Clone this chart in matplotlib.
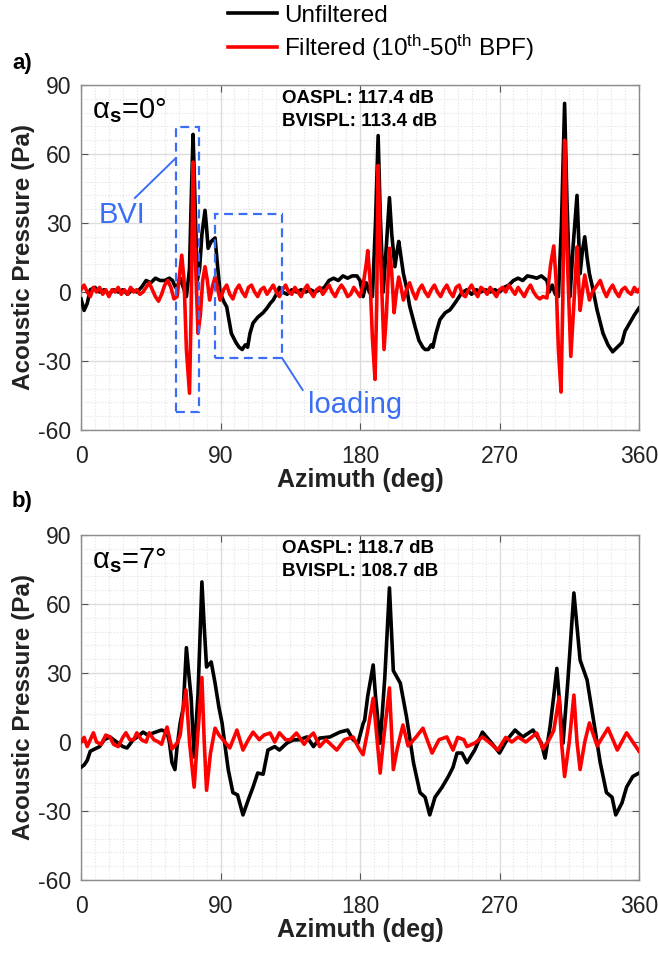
import matplotlib
matplotlib.use("Agg")
import matplotlib.pyplot as plt
from matplotlib.patches import Rectangle
from matplotlib.ticker import MultipleLocator

plt.rcParams['font.family'] = ['Liberation Sans', 'DejaVu Sans']
plt.rcParams['mathtext.fontset'] = 'custom'
plt.rcParams['mathtext.rm'] = 'Liberation Sans'
plt.rcParams['mathtext.it'] = 'Liberation Sans:italic'
plt.rcParams['mathtext.bf'] = 'Liberation Sans:bold'
plt.rcParams['axes.unicode_minus'] = False

# --- data (azimuth in deg, pressure in Pa) ---

# panel a) alpha_s = 0 deg, unfiltered
az_a_unf = [0, 2, 4, 6, 9, 12, 15, 18, 21, 24, 27, 30, 33, 36, 39, 42, 45, 48, 51, 54,
            57, 59, 61, 62, 64, 66, 68, 70, 71.5, 72.3, 73.5, 75, 76.5, 78, 80, 81, 82, 84,
            86.5, 88, 89.7, 92, 94, 97, 100, 102, 104, 106, 107.5, 109, 111, 114, 117.5,
            120, 122, 124, 126, 128, 130, 133, 136, 139, 142, 145, 148, 151, 154, 157,
            160, 163, 166, 169, 172, 175, 178, 180, 182, 184, 186, 188, 190, 191.7, 193,
            195, 197, 199, 200.5, 202.5, 204, 205, 206.5, 208, 210, 212, 215.5, 218,
            220.5, 222, 224, 226, 227, 229, 231.6, 235, 238, 240, 242.6, 245, 246.5, 249,
            252, 255, 258, 261, 264, 267, 270, 273, 276, 279, 282, 285, 288, 291.6, 294,
            297, 300.6, 302, 304, 306, 308, 310, 312, 313.5, 315.5, 317.5, 320, 321, 322,
            323.5, 325, 326.5, 328, 330, 333, 336.8, 340, 343, 346, 349, 351, 354, 357, 360]
p_a_unf = [-3, -8, -5, 1, 2, 0, 1, -1, 1, 0, 1, -1, 1, 0, 2, 5, 4, 6, 5, 5,
           6, 5, 2, 2, 6, 2, -2, 10, 50, 68.5, 40, 5, 10, 25, 35.5, 28, 19, 22,
           23.5, 12, 0, -4, -6.5, -18, -22, -24, -25, -23, -24, -18, -13.5, -11, -9,
           -7, -5, -3.5, -1, 2, 0, -1, 1, 0, 1, 0, 1, 0, 1, 2,
           5, 6, 5, 7, 6, 7, 7, 5, -2, 4, 0, -2, 30, 68, 35,
           0, 20, 41, 25, 11, 18, 22, 15, 8, 2, -6, -15, -21,
           -24, -25, -25, -23, -24, -18, -12, -9, -7.8, -6, -3.5, -1, 0, 1,
           -1, 1, 0, 1, 0, 1, 0, 2, 3, 5, 6, 5, 7, 6.5, 6,
           7, 5, 0, 3, -1, -2, 30, 82, 40, -2, 20, 42, 25, 8,
           18, 24, 15, 8, 2, -8, -18, -23, -26, -24, -22, -17, -13.5, -10, -7]

# panel a) alpha_s = 0 deg, filtered 10th-50th BPF
az_a_flt = [0, 2, 4, 6, 8, 10, 12, 14, 16, 18, 20, 22, 24, 26, 28, 30, 32, 34, 36, 38,
            40, 42, 44, 46, 48, 50, 52, 54, 56, 58, 60, 62, 64, 65, 66.5, 68, 70, 71,
            72.3, 73.5, 75.5, 77, 78.5, 80, 81.5, 83, 85, 86.5, 88, 89.7, 92, 94, 96, 98,
            100, 102, 104, 106, 108, 110, 112, 114, 116, 118, 120, 122, 124, 126, 128,
            130, 132, 134, 136, 138, 140, 142, 144, 146, 148, 150, 152, 154, 156, 158,
            160, 162, 164, 166, 168, 170, 172, 174, 176, 178, 180, 182, 184, 185, 186.5,
            188, 189.7, 190.8, 191.7, 193, 195.5, 197, 199, 200.5, 202, 203.5, 205,
            206.5, 208, 210, 212, 214, 216, 218, 220, 222, 224, 226, 228, 230, 232, 234,
            236, 238, 240, 242, 244, 246, 248, 250, 252, 254, 256, 258, 260, 262, 264,
            266, 268, 270, 272, 274, 276, 278, 280, 282, 284, 286, 288, 290, 292, 294,
            296, 298, 300.6, 303, 305, 306.5, 308, 309.7, 310.8, 312, 313.5, 316, 318,
            320, 321, 322, 323.5, 325, 326.5, 328, 330, 332, 335, 337, 339, 341, 343,
            345, 347, 349, 351, 353, 355, 357, 359, 360]
p_a_flt = [1, 3, 0, -2, 2, 0, 2, -1, 1, -2, 1, 0, 2, -1, 1, -1, 2, 0, 1, -1,
           0, 2, 4, 1, -2, -4, -1, 3, 5, 2, -3, -2, 10, 16, 5, -25, -44, -10,
           56.5, 20, -18, -10, 5, 11, 5, -3.5, 3, 6.5, 2, -3.5, 1, 3, -1, -3,
           1, 3, 0, -2, 2, 3, 0, -2, 1, 2, -1, 1, 3, 0, -2,
           1, 3, 0, -1, 2, 0, -2, 1, 3, 0, -2, 1, 2, -1, 1,
           3, 0, -2, 1, 3, 1, -2, -1, 2, 0, -2, 3, 12, 18, 5,
           -20, -38, -5, 55, 20, -25, -10, 19, 8, -9, 0, 6.5,
           2, -3.5, 1, 4, 0, -3, 1, 3, 0, -2, 1, 3, 0, -2, 1,
           3, 0, -2, 2, 3, -1, -2, 1, 3, 0, -2, 2, 1, -1, 2,
           0, -2, 1, 2, 0, 3, 1, -1, 2, 0, -2, 1, 3, 0, -2,
           -3, -2, -2.6, 12, 20, 5, -25, -43.5, -5, 66, 20, -28, -5,
           19.6, 5, -8, 0, 7.4, 2, -3.5, 0, 2, 5, 1, -2, 1, 3,
           0, -2, 1, 2, 0, -1, 2, 0, 1]

# panel b) alpha_s = 7 deg, unfiltered
az_b_unf = [0, 2, 4, 6, 9, 12, 15, 18.7, 21, 24, 27, 29.7, 31.5, 33.5, 36, 40, 43, 46.5,
            49, 52, 55.5, 57, 58.7, 60.6, 62, 64, 66, 68, 69.5, 71, 73, 75.5, 77, 78,
            79.5, 81, 84, 86.5, 89, 91, 93, 95, 98, 101, 104.5, 108, 111, 114, 117.5,
            120.6, 125, 128, 133, 137, 141, 145.8, 150, 154, 160.6, 167, 172, 175.5,
            178.7, 182, 183, 185, 188.5, 190, 193, 196, 199, 201.5, 206, 210, 214.5,
            218.7, 222, 225, 228.4, 233, 237, 240, 242.6, 245.8, 249, 254, 259, 265,
            270, 274.8, 280, 285, 291.6, 297, 299.4, 302.6, 305, 307, 309, 311, 314,
            318, 322, 326.5, 330.3, 335, 339, 342.6, 345, 349, 352, 356, 360]
p_b_unf = [-11, -10, -8, -4, -3, -2, 1, 2.2, 1, -0.5, -2, -2.6, -1, 0.9, 2, 4.3, 3, 3.9,
           4.5, 5.2, 4.3, 0, -9, -12, -2, 8.3, 15, 41, 30, 19.6, -6.5, 21, 50, 69.6,
           50, 32.6, 34.8, 25.6, 15, 8.3, -2, -12, -22, -23, -31.7, -25, -19.6, -13.5, -14,
           -3.5, -2, -3.5, -0.4, 0.9, 1, 2.2, -2, 1.7, 2.2, 4.3, 5.2, 1,
           -0.5, 8, 9.5, 20, 33.5, 20, -0.5, 28, 67, 31, 25.6, 11, -9,
           -22, -24, -31.7, -24, -19.6, -15, -11, -4.8, -4.8, -9, -3.5, 4.3, -0.5,
           -4.8, 0.9, 5.2, 2.2, 5.2, -0.5, -7, 6.5, 20, 32, 15, -0.5, 25.6,
           64.8, 35.6, 27, 11, -9, -22, -24, -31.7, -26.5, -19.6, -15, -13.5]

# panel b) alpha_s = 7 deg, filtered 10th-50th BPF
az_b_flt = [0, 2, 4, 6, 8, 10, 13, 16, 18.7, 21, 24, 27, 29, 31.5, 34, 36, 39, 42, 44,
            47, 50, 52, 55.5, 58.7, 62, 64, 66, 67.7, 70, 73, 75, 78, 79.5, 81, 83.5,
            86.5, 89, 91.6, 96, 100.6, 104.5, 108, 111, 115, 118, 122, 125, 128, 132,
            135, 139, 144, 147, 150, 154, 158, 165, 170, 175.5, 178.7, 180, 182, 185,
            188.5, 190.5, 193, 195, 199, 200.3, 201.5, 204, 207.7, 211, 216, 220.6,
            226.5, 231, 236, 240, 243, 247, 249, 254, 259, 264, 269, 274, 278, 282, 287,
            294, 298, 302, 305, 308.5, 310, 312, 315, 318, 320, 322, 325, 328, 333, 340,
            346, 352, 356, 360]
p_b_flt = [0, 2, -2, 1, 4, 0, -1, 3, 2.2, -1, -2, 2, 4, 1, 1, 4, 1, 0, 4,
           1, 0, -1, 6.5, -3, -0.5, 3, 15, 22.6, 0, -19.6, 0, 28, 0, -21, -5,
           6, 3, 1, -2.6, 5.2, -3.5, 1, 4.3, 1, 3, 3.9, 0, 4, 1,
           1, 3.9, -1, 2, 3.9, -2, 1, -3.5, 1, 2.2, -2, -3.5, -5.5, 5,
           19, 5, -13.5, 0, 23.5, 5, -12, -3, 7.4, -1.7, 2, 6,
           -4.8, 1, 2.2, -3.5, 2, 1, -2, -0.5, 2.2, -0.5, -3.5, 2, 0, 2.2, 0,
           3.9, -3, 1, 5, 19.6, 0, -15, 0, 20.4, 0, -12, 0, 8.3, -1.7, 6,
           -3.5, 4, 0, -4]

panel_tags = ['a)', 'b)']
alpha_labels = ['α$_{\\mathbf{s}}$=0°', 'α$_{\\mathbf{s}}$=7°']
oaspl = [117.4, 118.7]
bvispl = [113.4, 108.7]

blue = '#3a6ef5'

fig = plt.figure(figsize=(6.58, 9.56), dpi=100)
ax_a = fig.add_axes([81 / 658, 1 - 430 / 956, 558 / 658, 345 / 956])
ax_b = fig.add_axes([81 / 658, 1 - 880 / 956, 558 / 658, 345 / 956])

series = [(az_a_unf, p_a_unf, az_a_flt, p_a_flt), (az_b_unf, p_b_unf, az_b_flt, p_b_flt)]

for i, ax in enumerate([ax_a, ax_b]):
    az_u, p_u, az_f, p_f = series[i]
    h1, = ax.plot(az_u, p_u, color='black', lw=2.6, label='Unfiltered', zorder=3)
    h2, = ax.plot(az_f, p_f, color='#ff0000', lw=2.6,
                  label=r'Filtered (10$^{\mathregular{th}}$-50$^{\mathregular{th}}$ BPF)',
                  zorder=4)

    ax.set_xlim(0, 360)
    ax.set_ylim(-60, 90)
    ax.xaxis.set_major_locator(MultipleLocator(90))
    ax.xaxis.set_minor_locator(MultipleLocator(9))
    ax.yaxis.set_major_locator(MultipleLocator(30))
    ax.yaxis.set_minor_locator(MultipleLocator(6))
    ax.grid(True, which='major', color='#dcdcdc', lw=1.0, zorder=0)
    ax.grid(True, which='minor', color='#e2e2e2', lw=0.8, ls=':', zorder=0)
    ax.tick_params(which='both', direction='in', colors='#555555', labelcolor='#222222',
                   labelsize=16.5, top=True, right=True)
    ax.tick_params(which='minor', length=0)
    ax.tick_params(which='major', length=5)
    ax.tick_params(axis='x', which='major', pad=11)
    ax.tick_params(axis='y', which='major', pad=7)
    for sp in ax.spines.values():
        sp.set_color('#8c8c8c')
        sp.set_linewidth(1.0)

    ax.set_xlabel('Azimuth (deg)', fontsize=18, fontweight='bold', color='#222222',
                  labelpad=0)
    ax.set_ylabel('Acoustic Pressure (Pa)', fontsize=17.5, fontweight='bold',
                  color='#222222', labelpad=2)

    ax.text(7, 79, alpha_labels[i], fontsize=21, va='center', ha='left', zorder=5)
    ax.text(130, 84, f'OASPL: {oaspl[i]} dB', fontsize=13.5, fontweight='bold',
            va='center', ha='left', zorder=5)
    ax.text(130, 74, f'BVISPL: {bvispl[i]} dB', fontsize=13.5, fontweight='bold',
            va='center', ha='left', zorder=5)

    fig.text(12 / 658, 1 - (64 if i == 0 else 502) / 956, panel_tags[i], fontsize=16,
             fontweight='bold', va='center', ha='left')

# annotations on panel a)
ax_a.add_patch(Rectangle((61.3, -52.2), 14.8, 123.9, fill=False, ec=blue, lw=1.6,
                         ls=(0, (4, 2.5)), zorder=5))
ax_a.add_patch(Rectangle((86.5, -28.7), 43.2, 62.6, fill=False, ec=blue, lw=1.6,
                         ls=(0, (4, 2.5)), zorder=5))
ax_a.plot([34.8, 61.3], [40.9, 58.3], color=blue, lw=1.4, zorder=5)
ax_a.plot([129.7, 143], [-28.7, -42.6], color=blue, lw=1.4, zorder=5)
ax_a.text(26.5, 33.5, 'BVI', color=blue, fontsize=21, ha='center', va='center', zorder=6)
ax_a.text(177, -49, 'loading', color=blue, fontsize=21, ha='center', va='center', zorder=6)

fig.legend(handles=[h1, h2], loc='upper left', bbox_to_anchor=(228 / 658, 0.995),
           frameon=False, fontsize=17.5, handlelength=2.0, handletextpad=0.3,
           labelspacing=0.25, borderpad=0, borderaxespad=0)

fig.savefig('out.png', dpi=100)
